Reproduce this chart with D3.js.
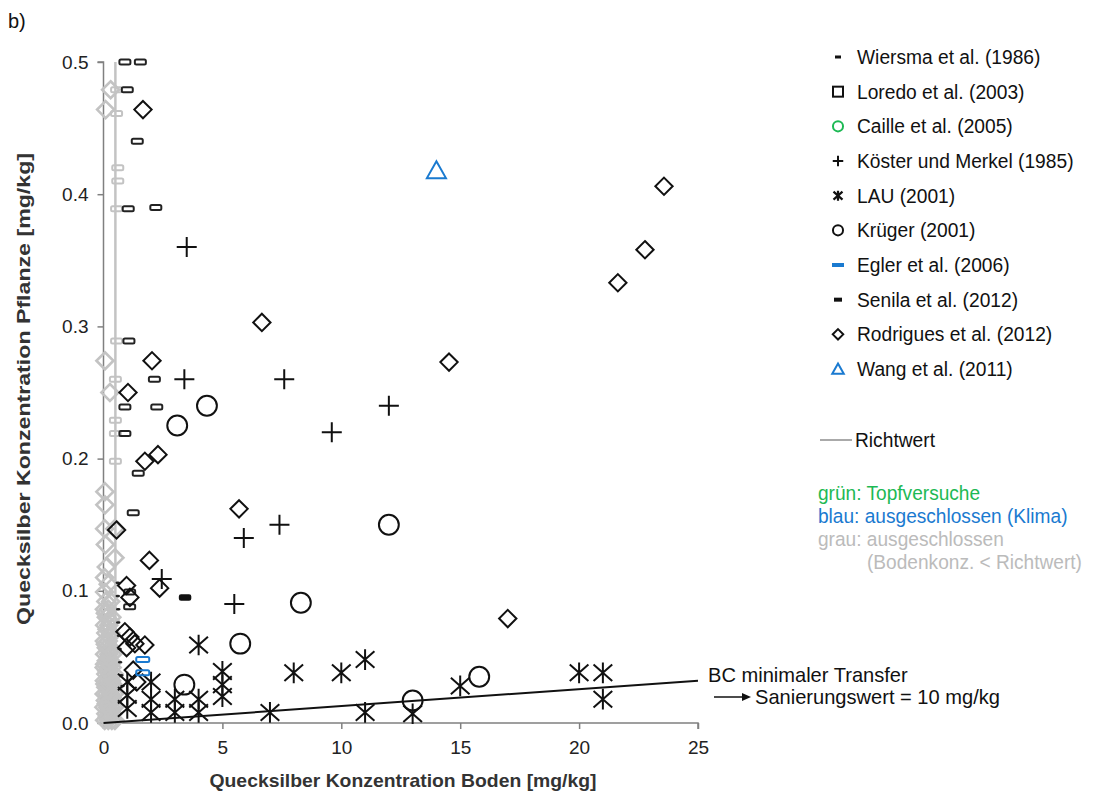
<!DOCTYPE html>
<html><head><meta charset="utf-8">
<script src="https://cdn.jsdelivr.net/npm/d3@7"></script>
<style>
body{margin:0;background:#fff;}
text{font-family:"Liberation Sans",Arial,sans-serif;}
</style></head>
<body><svg id="c" width="1094" height="792"></svg>
<script>
// ---------- data ----------
const xTicks = [0, 5, 10, 15, 20, 25];
const yTicks = [0.0, 0.1, 0.2, 0.3, 0.4, 0.5];
const yTickLabels = ["0.0", "0.1", "0.2", "0.3", "0.4", "0.5"];
const richtwert = 0.5;
const bcLine = [[0, 0], [25, 0.032]];

const wiersma = [[0.6,0.106],[0.6,0.096],[0.62,0.086],[0.62,0.076],[0.65,0.066],[0.68,0.056],[0.7,0.046],[0.75,0.036],[0.8,0.028]];
const loredo = [[0.9,0.5],[1.55,0.5],[1.0,0.479],[1.42,0.44],[1.04,0.389],[2.2,0.39],[1.07,0.289],[2.14,0.26],[0.9,0.239],[2.24,0.239],[0.9,0.219],[1.46,0.189],[1.25,0.159],[1.1,0.099],[1.1,0.088]];
const loredoGrey = [[0.55,0.479],[0.55,0.461],[0.6,0.42],[0.6,0.41],[0.55,0.389],[0.55,0.289],[0.5,0.26],[0.5,0.229],[0.5,0.219],[0.5,0.198]];
const caille = [];
const koester = [[3.5,0.36],[3.4,0.26],[7.6,0.26],[12.0,0.24],[9.6,0.22],[7.4,0.15],[5.9,0.14],[5.5,0.09],[2.45,0.109]];
const lau = [[8.0,0.038],[10.0,0.038],[11.0,0.048],[7.0,0.008],[11.0,0.008],[13.0,0.007],[15.0,0.028],[20.0,0.038],[21.0,0.038],[21.0,0.018],[4.0,0.059],
  [1.0,0.031],[1.0,0.021],[1.0,0.011],[2.0,0.031],[2.0,0.018],[2.0,0.008],[3.0,0.018],[3.0,0.008],[4.0,0.018],[4.0,0.008],[5.0,0.039],[5.0,0.029],[5.0,0.02]];
const krueger = [[4.35,0.24],[3.1,0.225],[12.0,0.15],[8.3,0.091],[5.75,0.06],[3.4,0.029],[15.8,0.035],[13.0,0.017]];
const egler = [[1.65,0.048],[1.65,0.038]];
const senila = [[3.43,0.095]];
const rodrigues = [[23.57,0.406],[22.77,0.358],[21.63,0.333],[14.53,0.273],[6.66,0.303],[5.7,0.162],[17.0,0.079],[1.66,0.464],[2.04,0.274],[1.03,0.25],[1.74,0.198],[2.29,0.203],[0.55,0.146],[1.93,0.123],[2.36,0.102],[0.97,0.104],[1.11,0.095],[0.9,0.069],[1.11,0.065],[1.74,0.059],[0.97,0.057],[1.32,0.06],[1.25,0.04],[1.4,0.031]];
const rodriguesGrey = [[0.3,0.479],[0.09,0.464],[0.06,0.274],[0.27,0.25],[0.06,0.175],[0.06,0.165],[0.05,0.147],[0.48,0.147],[0.48,0.125],[0.08,0.135],[0.12,0.118],[0.05,0.11],[0.2,0.105],[0.05,0.099],
  [0.1,0.092],[0.3,0.092],[0.04,0.086],[0.2,0.086],[0.12,0.08],[0.35,0.08],[0.05,0.074],[0.22,0.074],[0.1,0.068],[0.3,0.068],[0.04,0.062],[0.2,0.062],
  [0.12,0.057],[0.3,0.057],[0.05,0.052],[0.22,0.052],[0.38,0.052],[0.12,0.047],[0.3,0.047],[0.03,0.042],[0.2,0.042],[0.36,0.042],
  [0.1,0.037],[0.27,0.037],[0.44,0.037],[0.04,0.032],[0.18,0.032],[0.34,0.032],[0.1,0.027],[0.26,0.027],[0.42,0.027],
  [0.03,0.022],[0.15,0.022],[0.3,0.022],[0.45,0.022],[0.08,0.017],[0.24,0.017],[0.4,0.017],[0.02,0.012],[0.18,0.012],[0.32,0.012],[0.46,0.012],
  [0.1,0.007],[0.25,0.007],[0.4,0.007],[0.05,0.002],[0.2,0.002],[0.35,0.002],[0.48,0.002],
  [0.16,0.0045],[0.3,0.0095],[0.12,0.0145],[0.36,0.0195],[0.22,0.0245],[0.06,0.0295],[0.38,0.0295],[0.24,0.0345],[0.14,0.0395],[0.3,0.0445],
  [0.05,0.0445],[0.2,0.0495],[0.3,0.0545],[0.08,0.0595],[0.25,0.065],[0.15,0.071],[0.28,0.077],[0.08,0.083]];
const wang = [[14.0,0.418]];

const legendItems = ["Wiersma et al. (1986)","Loredo et al. (2003)","Caille et al. (2005)","Köster und Merkel (1985)","LAU (2001)","Krüger (2001)","Egler et al. (2006)","Senila et al. (2012)","Rodrigues et al. (2012)","Wang et al. (2011)"];
const legendKeys = ["dash","square","circleG","plus","ast","circle","blueDash","senila","diamond","tri"];

// ---------- setup ----------
const svg = d3.select("#c");
const x = d3.scaleLinear().domain([0, 25]).range([103.5, 698]);
const y = d3.scaleLinear().domain([0, 0.5]).range([723, 62]);
const GREY = "#c3c3c3", AX = "#808080", BLUE = "#1a7ad0", GREEN = "#1db954";

// custom symbol types
const symDiamond = {draw(c, s){const r=Math.sqrt(s)/2; c.moveTo(0,-r); c.lineTo(r,0); c.lineTo(0,r); c.lineTo(-r,0); c.closePath();}};
const symPlus = {draw(c, s){const r=Math.sqrt(s)/2; c.moveTo(-r,0); c.lineTo(r,0); c.moveTo(0,-r); c.lineTo(0,r);}};
const symAst = {draw(c, s){const r=Math.sqrt(s)/2; c.moveTo(0,-r); c.lineTo(0,r); c.moveTo(-r*0.9,-r*0.8); c.lineTo(r*0.9,r*0.8); c.moveTo(r*0.9,-r*0.8); c.lineTo(-r*0.9,r*0.8);}};
const symTri = {draw(c, s){const r=Math.sqrt(s)/2; c.moveTo(0,-r); c.lineTo(r*1.05,r*0.85); c.lineTo(-r*1.05,r*0.85); c.closePath();}};

// ---------- axes ----------
const gx = svg.append("g").attr("transform","translate(0,723)")
  .call(d3.axisBottom(x).tickValues(xTicks).tickSize(6).tickPadding(12).tickFormat(d3.format("d")));
const gy = svg.append("g").attr("transform","translate(103.5,0)")
  .call(d3.axisLeft(y).tickValues(yTicks).tickSize(6).tickPadding(9).tickFormat((d,i)=>yTickLabels[i]));
[gx, gy].forEach(g => {
  g.select(".domain").attr("stroke", AX).attr("stroke-width", 1.5);
  g.selectAll(".tick line").attr("stroke", AX).attr("stroke-width", 1.5);
  g.selectAll(".tick text").attr("fill", "#222").style("font-size", "19px").style("font-family", "Liberation Sans, Arial, sans-serif");
});
gy.select(".domain").attr("d", `M-6,${y(0.5)}H0V${y(0)}H-6`);
gx.select(".domain").attr("d", `M${x(0)},6V0H${x(25)}V6`);

// Richtwert line
svg.append("line").attr("x1", x(richtwert)).attr("x2", x(richtwert)).attr("y1", y(0)).attr("y2", y(0.5))
  .attr("stroke", GREY).attr("stroke-width", 2.5);

// ---------- marks ----------
const plot = svg.append("g");
function pts(data, type, size, stroke, sw, fill){
  plot.selectAll(null).data(data).join("path")
    .attr("transform", d => `translate(${x(d[0])},${y(d[1])})`)
    .attr("d", d3.symbol().type(type).size(size))
    .attr("fill", fill || "none").attr("stroke", stroke).attr("stroke-width", sw);
}
function rects(data, w, h, stroke, sw, fill){
  plot.selectAll(null).data(data).join("rect")
    .attr("x", d => x(d[0]) - w/2).attr("y", d => y(d[1]) - h/2)
    .attr("width", w).attr("height", h).attr("rx", 1.5)
    .attr("fill", fill || "none").attr("stroke", stroke).attr("stroke-width", sw);
}
// grey (below Richtwert)
pts(rodriguesGrey, symDiamond, 290, GREY, 2.6);
rects(loredoGrey, 11, 5, GREY, 2);
// black
rects(wiersma, 3, 1, "#222", 1.6, "#222");
rects(loredo, 11, 5, "#222", 2);
pts(rodrigues, symDiamond, 300, "#111", 2);
pts(koester, symPlus, 400, "#111", 2);
pts(krueger, d3.symbolCircle, 310, "#111", 2);
pts(lau, symAst, 430, "#111", 2);
rects(senila, 11, 5, "#111", 1.5, "#111");
rects(egler, 13, 5, BLUE, 2);
pts(caille, d3.symbolCircle, 100, GREEN, 2);
pts(wang, symTri, 330, BLUE, 2);

// BC minimal transfer line
svg.append("line").attr("x1", x(bcLine[0][0])).attr("y1", y(bcLine[0][1]))
  .attr("x2", x(bcLine[1][0])).attr("y2", y(bcLine[1][1])).attr("stroke", "#111").attr("stroke-width", 2);

// ---------- text ----------
function txt(xp, yp, s, size, fill, sx, weight){
  return svg.append("text").attr("transform", `translate(${xp},${yp}) scale(${sx||1},1)`)
    .style("font-size", size + "px").style("font-weight", weight || "normal").attr("fill", fill).text(s);
}
txt(8, 28, "b)", 20, "#111");
svg.append("text").attr("transform", "translate(30,389) rotate(-90)").attr("text-anchor", "middle")
  .style("font-size", "19px").style("font-weight", "bold").attr("fill", "#333")
  .attr("textLength", 472).attr("lengthAdjust", "spacingAndGlyphs")
  .text("Quecksilber  Konzentration Pflanze [mg/kg]");
svg.append("text").attr("x", 403).attr("y", 787).attr("text-anchor", "middle")
  .style("font-size", "19px").style("font-weight", "bold").attr("fill", "#333")
  .attr("textLength", 387).attr("lengthAdjust", "spacingAndGlyphs")
  .text("Quecksilber Konzentration Boden [mg/kg]");

txt(708, 682, "BC minimaler Transfer", 20.5, "#111", 0.98);
svg.append("line").attr("x1", 714).attr("x2", 744).attr("y1", 697).attr("y2", 697).attr("stroke", "#111").attr("stroke-width", 1.5);
svg.append("path").attr("d", "M751,697 L742,693 L742,701 Z").attr("fill", "#111");
txt(755, 704, "Sanierungswert = 10 mg/kg", 20.5, "#111", 0.98);

// ---------- legend ----------
const lg = svg.append("g");
const ly = d3.scaleLinear().domain([0, 9]).range([57, 369]);
legendItems.forEach((name, i) => {
  const cy = ly(i), cx = 838, k = legendKeys[i];
  const g = lg.append("g").attr("transform", `translate(${cx},${cy})`);
  if (k === "dash") g.append("rect").attr("x", -3).attr("y", -1.5).attr("width", 6).attr("height", 3).attr("fill", "#111");
  if (k === "square") g.append("rect").attr("x", -5).attr("y", -5).attr("width", 10).attr("height", 10).attr("fill", "none").attr("stroke", "#111").attr("stroke-width", 2);
  if (k === "circleG") g.append("path").attr("d", d3.symbol().type(d3.symbolCircle).size(80)).attr("fill", "none").attr("stroke", GREEN).attr("stroke-width", 2);
  if (k === "plus") g.append("path").attr("d", d3.symbol().type(symPlus).size(110)).attr("stroke", "#111").attr("stroke-width", 2);
  if (k === "ast") g.append("path").attr("d", d3.symbol().type(symAst).size(100)).attr("stroke", "#111").attr("stroke-width", 2.2);
  if (k === "circle") g.append("path").attr("d", d3.symbol().type(d3.symbolCircle).size(80)).attr("fill", "none").attr("stroke", "#111").attr("stroke-width", 2);
  if (k === "blueDash") g.append("rect").attr("x", -6).attr("y", -2).attr("width", 12).attr("height", 4).attr("fill", BLUE);
  if (k === "senila") g.append("rect").attr("x", -4).attr("y", -2).attr("width", 8).attr("height", 4).attr("fill", "#111");
  if (k === "diamond") g.append("path").attr("d", d3.symbol().type(symDiamond).size(110)).attr("fill", "none").attr("stroke", "#111").attr("stroke-width", 2);
  if (k === "tri") g.append("path").attr("d", d3.symbol().type(symTri).size(120)).attr("fill", "none").attr("stroke", BLUE).attr("stroke-width", 2);
  txt(857, cy + 7, name, 20, "#111", 0.96);
});
lg.append("line").attr("x1", 820).attr("x2", 852).attr("y1", 440).attr("y2", 440).attr("stroke", "#aaa").attr("stroke-width", 2);
txt(855, 447, "Richtwert", 20, "#111", 0.96);
txt(818, 500, "grün: Topfversuche", 19.5, GREEN, 0.98);
txt(818, 523, "blau: ausgeschlossen (Klima)", 19.5, BLUE, 0.98);
txt(818, 546, "grau: ausgeschlossen", 19.5, "#bbb", 0.98);
txt(867, 569, "(Bodenkonz. < Richtwert)", 19.5, "#bbb", 0.98);
</script></body></html>
